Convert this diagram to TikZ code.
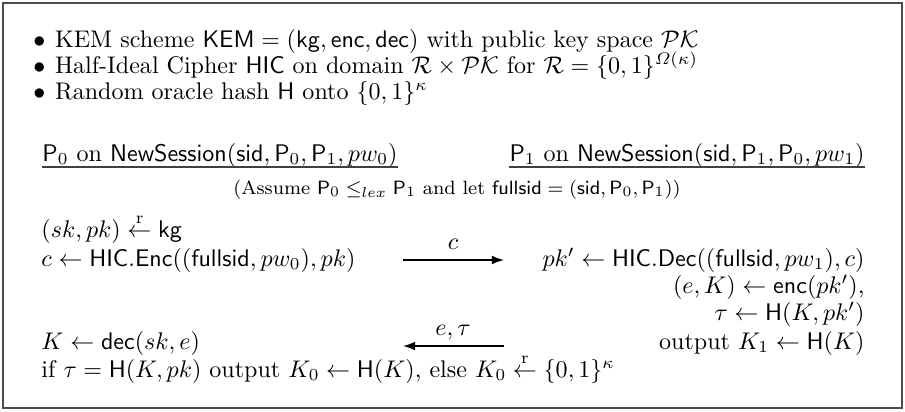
\documentclass[tikz,border=0pt]{standalone}
\usepackage{amsmath}
\usetikzlibrary{arrows.meta}
\newlength\hdrw
\AtBeginDocument{%
  \settowidth{\hdrw}{$\mathsf{P}_0$ on $\mathsf{NewSession}(\mathsf{sid},\mathsf{P}_0,\mathsf{P}_1,pw_0)$}%
  \pgfmathsetlengthmacro\pxu{\hdrw/355}}
\begin{document}
\begin{tikzpicture}[x=\pxu,y=-\pxu,
  txt/.style={inner sep=0pt, anchor=base west},
  txr/.style={inner sep=0pt, anchor=base east},
  txc/.style={inner sep=0pt, anchor=base},
  msg/.style={line width=0.6pt, -{Latex[length=5pt,width=3.6pt]}},
  uline/.style={line width=0.6pt, draw=black!75},
  frame/.style={line width=0.9pt, draw=black!70}]
\useasboundingbox (0,0) rectangle (905,411);
\draw[frame] (3,3) rectangle (902,408);
% assumptions
\node[txt] (b1) at (33,47) {$\bullet$\hspace{4pt}KEM scheme $\mathsf{KEM}=(\mathsf{kg},\mathsf{enc},\mathsf{dec})$ with public key space $\mathcal{PK}$};
\node[txt] (b2) at (33,73) {$\bullet$\hspace{4pt}Half-Ideal Cipher $\mathsf{HIC}$ on domain $\mathcal{R}\times\mathcal{PK}$ for $\mathcal{R}=\{0,1\}^{\varOmega(\kappa)}$};
\node[txt] (b3) at (33,99) {$\bullet$\hspace{4pt}Random oracle hash $\mathsf{H}$ onto $\{0,1\}^{\kappa}$};
% headers
\node[txt] (h0) at (42,161) {$\mathsf{P}_0$ on $\mathsf{NewSession}(\mathsf{sid},\mathsf{P}_0,\mathsf{P}_1,pw_0)$};
\node[txr] (h1) at (865,161) {$\mathsf{P}_1$ on $\mathsf{NewSession}(\mathsf{sid},\mathsf{P}_1,\mathsf{P}_0,pw_1)$};
\coordinate (u0a) at (42,167); \coordinate (u0b) at (h0.east |- u0a);
\coordinate (u1b) at (865,167); \coordinate (u1a) at (h1.west |- u1b);
\draw[uline] (u0a) -- (u0b);
\draw[uline] (u1a) -- (u1b);
\node[txc] (as) at (457,194) {\footnotesize (Assume $\mathsf{P}_0\le_{lex}\mathsf{P}_1$ and let $\mathsf{fullsid}=(\mathsf{sid},\mathsf{P}_0,\mathsf{P}_1)$)};
% left party
\node[txt] (l1) at (41,237) {$(sk,pk)\stackrel{\mathrm{r}}{\leftarrow}\mathsf{kg}$};
\node[txt] (l2) at (41,266) {$c\leftarrow\mathsf{HIC.Enc}((\mathsf{fullsid},pw_0),pk)$};
\node[txt] (l3) at (41,349) {$K\leftarrow\mathsf{dec}(sk,e)$};
\node[txt] (l4) at (41,377) {if $\tau=\mathsf{H}(K,pk)$ output $K_0\leftarrow\mathsf{H}(K)$, else $K_0\stackrel{\mathrm{r}}{\leftarrow}\{0,1\}^{\kappa}$};
% right party
\node[txr] (r1) at (865,266) {$pk'\leftarrow\mathsf{HIC.Dec}((\mathsf{fullsid},pw_1),c)$};
\node[txr] (r2) at (865,293) {$(e,K)\leftarrow\mathsf{enc}(pk')$,};
\node[txr] (r3) at (865,320) {$\tau\leftarrow\mathsf{H}(K,pk')$};
\node[txr] (r4) at (865,349) {output $K_1\leftarrow\mathsf{H}(K)$};
% messages
\coordinate (m1s) at (403,260); \coordinate (m1e) at (504,260);
\coordinate (m2s) at (504,346); \coordinate (m2e) at (403,346);
\draw[msg] (m1s) -- (m1e);
\draw[msg] (m2s) -- (m2e);
\node[txc] (m1l) at (453,249) {$c$};
\node[txc] (m2l) at (453,335) {$e,\tau$};
\end{tikzpicture}
\end{document}
